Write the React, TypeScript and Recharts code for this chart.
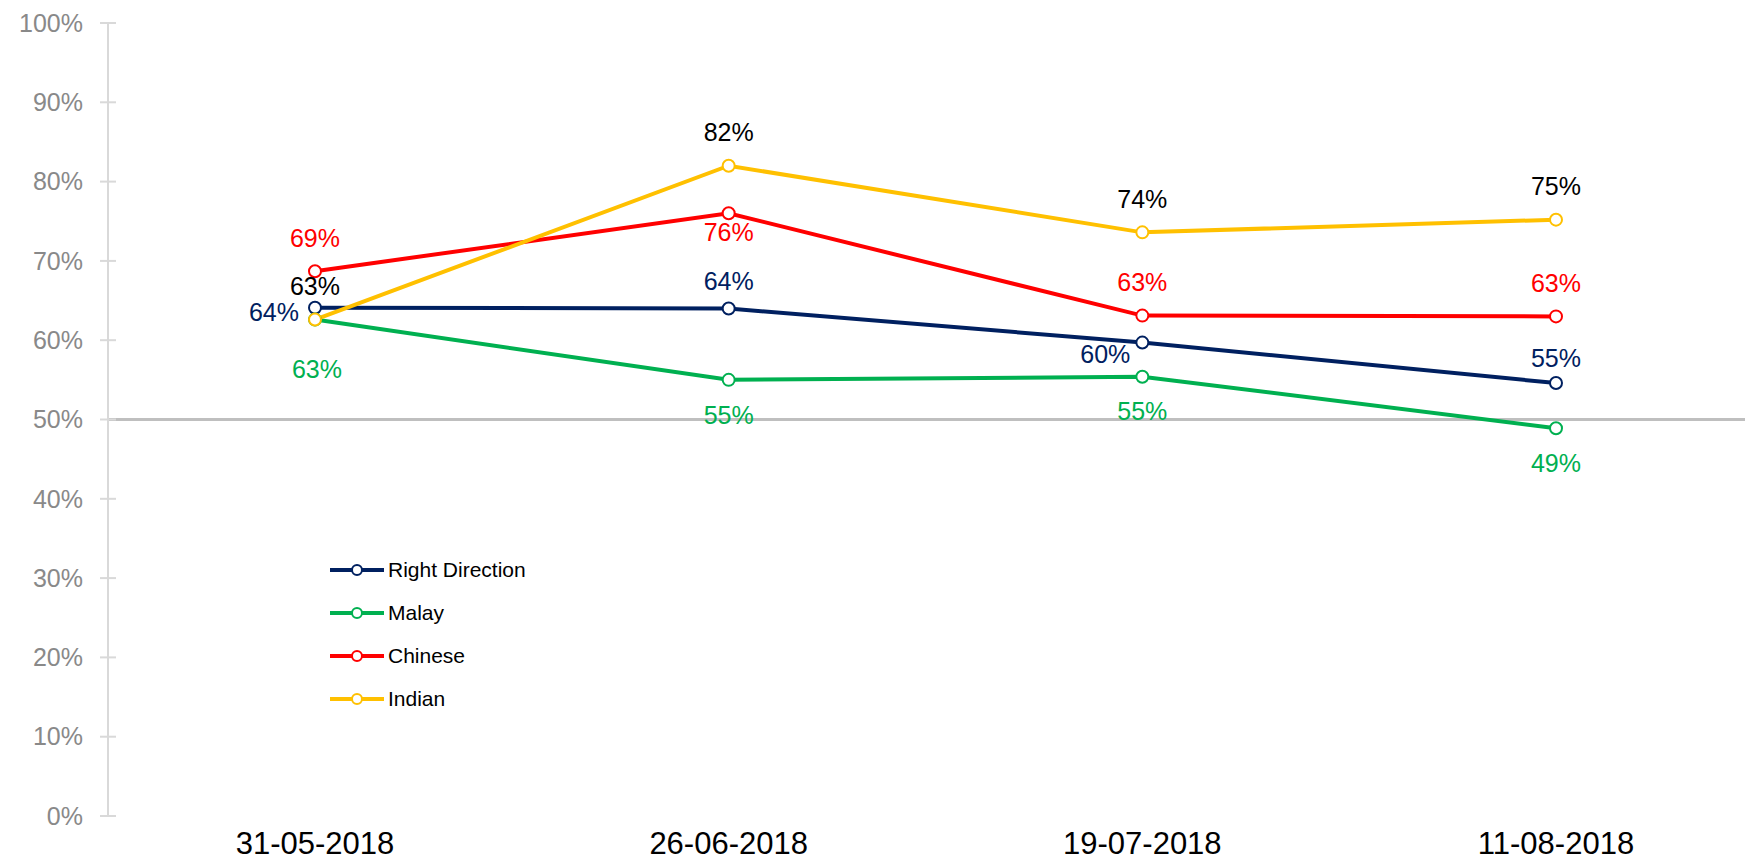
import React from 'react'
import {
  LineChart, Line, XAxis, YAxis, ReferenceLine, LabelList, Legend,
} from 'recharts'

// survey dates
const dates = ['31-05-2018', '26-06-2018', '19-07-2018', '11-08-2018']

// share saying "right direction", %
const rightDirection = [64.1, 64.0, 59.7, 54.6]
const malay = [62.6, 55.0, 55.4, 48.9]
const chinese = [68.7, 76.0, 63.1, 63.0]
const indian = [62.6, 82.0, 73.6, 75.2]

const yTicks = [0, 10, 20, 30, 40, 50, 60, 70, 80, 90, 100]

const rows = dates.map((d, i) => ({
  date: d,
  rightDirection: rightDirection[i],
  malay: malay[i],
  chinese: chinese[i],
  indian: indian[i],
}))

const NAVY = '#002060'
const GREEN = '#00B050'
const RED = '#FF0000'
const YELLOW = '#FFC000'
const FONT = '"Liberation Sans", Arial, sans-serif'

const SERIES = [
  { key: 'rightDirection', name: 'Right Direction', color: NAVY },
  { key: 'malay', name: 'Malay', color: GREEN },
  { key: 'chinese', name: 'Chinese', color: RED },
  { key: 'indian', name: 'Indian', color: YELLOW },
]

// where each data label sits relative to its point
type Spot = { dx: number; dy: number; anchor?: 'start' | 'middle' | 'end' }
const navySpots: Spot[] = [
  { dx: -16, dy: 5, anchor: 'end' },
  { dx: 0, dy: -27 },
  { dx: -12, dy: 12, anchor: 'end' },
  { dx: 0, dy: -25 },
]
const greenSpots: Spot[] = [{ dx: 2, dy: 50 }, { dx: 0, dy: 35 }, { dx: 0, dy: 35 }, { dx: 0, dy: 35 }]
const redSpots: Spot[] = [{ dx: 0, dy: -33 }, { dx: 0, dy: 19 }, { dx: 0, dy: -33 }, { dx: 0, dy: -33 }]
const yellowSpots: Spot[] = [{ dx: 0, dy: -33 }, { dx: 0, dy: -33 }, { dx: 0, dy: -33 }, { dx: 0, dy: -33 }]

const spotsFor: Record<string, Spot[]> = {
  rightDirection: navySpots,
  malay: greenSpots,
  chinese: redSpots,
  indian: yellowSpots,
}
const labelColor: Record<string, string> = {
  rightDirection: NAVY,
  malay: GREEN,
  chinese: RED,
  indian: '#000',
}

const makeLabel = (color: string, spots: Spot[]) => (props: any) => {
  const { x, y, value, index } = props
  const s = spots[index] ?? { dx: 0, dy: -33 }
  return (
    <text
      x={x + s.dx}
      y={y + s.dy}
      dy="0.35em"
      textAnchor={s.anchor ?? 'middle'}
      fill={color}
      fontSize={25}
      fontFamily={FONT}
    >
      {`${Math.round(Number(value))}%`}
    </text>
  )
}

const YTick = (props: any) => {
  const { x, y, payload } = props
  // axis sits tickSize + tickMargin to the right of the text
  const axisX = x + 8 + 17
  return (
    <g>
      <line x1={axisX - 8} x2={axisX + 8} y1={y} y2={y} stroke="#D9D9D9" strokeWidth={2} />
      <text x={x} y={y} dy="0.35em" textAnchor="end" fill="#898989" fontSize={25} fontFamily={FONT}>
        {`${payload.value}%`}
      </text>
    </g>
  )
}

const LegendBox = () => (
  <div style={{ fontFamily: FONT, fontSize: 21, color: '#000' }}>
    {SERIES.map(s => (
      <div key={s.key} style={{ height: 43, display: 'flex', alignItems: 'center' }}>
        <svg width={56} height={14} style={{ marginRight: 2 }}>
          <line x1={0} x2={54} y1={7} y2={7} stroke={s.color} strokeWidth={4} />
          <circle cx={27} cy={7} r={5} fill="#fff" stroke={s.color} strokeWidth={2} />
        </svg>
        <span>{s.name}</span>
      </div>
    ))}
  </div>
)

export default function App() {
  return (
    <div style={{ position: 'absolute', left: 0, top: 0, background: '#fff' }}>
      <LineChart width={1745} height={860} data={rows} margin={{ top: 23, right: 0, bottom: 0, left: 0 }}>
        <XAxis
          dataKey="date"
          height={44}
          axisLine={false}
          tickLine={false}
          tickSize={0}
          tickMargin={16}
          padding={{ left: 207, right: 189 }}
          tick={{ fontSize: 31, fill: '#000', fontFamily: FONT }}
        />
        <YAxis
          domain={[0, 100]}
          ticks={yTicks}
          width={108}
          axisLine={{ stroke: '#D9D9D9', strokeWidth: 2 }}
          tickLine={false}
          tickSize={8}
          tickMargin={17}
          tick={<YTick />}
          interval={0}
        />
        <ReferenceLine y={50} stroke="#BFBFBF" strokeWidth={3} />
        <Legend
          layout="horizontal"
          align="center"
          verticalAlign="middle"
          content={<LegendBox />}
          wrapperStyle={{ left: 330, top: 548, width: 'auto' }}
        />
        {SERIES.map(s => (
          <Line
            key={s.key}
            name={s.name}
            dataKey={s.key}
            stroke={s.color}
            strokeWidth={4}
            dot={{ r: 6, fill: '#fff', stroke: s.color, strokeWidth: 2 }}
            isAnimationActive={false}
          >
            <LabelList dataKey={s.key} content={makeLabel(labelColor[s.key], spotsFor[s.key])} />
          </Line>
        ))}
      </LineChart>
    </div>
  )
}
